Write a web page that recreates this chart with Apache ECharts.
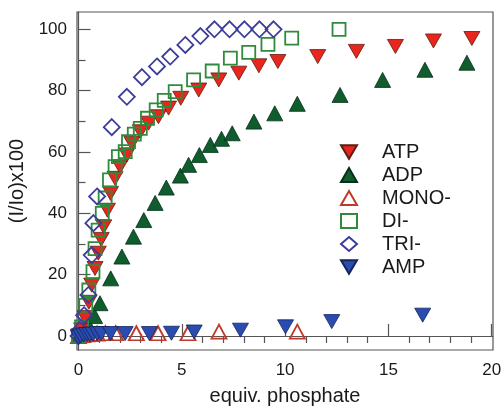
<!DOCTYPE html>
<html>
<head>
<meta charset="utf-8">
<script src="https://cdn.jsdelivr.net/npm/echarts@6/dist/echarts.min.js"></script>
<style>
  html, body { margin: 0; padding: 0; background: #fff; }
  #chart { width: 504px; height: 406px; }
</style>
</head>
<body>
<div id="chart"></div>
<script>
// [equiv. phosphate, (I/Io)x100]
var atp = [[0, 0], [0.15, 2], [0.32, 6], [0.5, 11], [0.64, 16.6], [0.8, 22], [0.96, 27], [1.1, 31.5],
    [1.22, 35.6], [1.4, 41], [1.55, 46.5], [1.77, 51.4], [2.01, 55.2], [2.34, 59], [2.58, 62.8],
    [2.99, 66.6], [3.39, 69.4], [3.87, 71.5], [4.36, 74.3], [4.95, 77.5], [5.82, 80.2], [6.79, 83.5],
    [7.76, 85.7], [8.73, 88.1], [9.65, 89.5], [11.58, 91.1], [13.45, 92.8], [15.34, 94.4],
    [17.18, 96.2], [19.04, 97]];
var adp = [[0, 0], [0.3, 1], [0.56, 2.5], [0.78, 6.5], [1.04, 10.7], [1.56, 18.8], [2.1, 25.9],
    [2.66, 32.4], [3.16, 37.8], [3.71, 43.4], [4.25, 48.4], [4.93, 52.3], [5.33, 55.8], [5.85, 59],
    [6.38, 62.3], [6.92, 64.3], [7.44, 66.1], [8.49, 69.9], [9.5, 72.6], [10.59, 75.7], [12.66, 78.6],
    [14.72, 83.5], [16.77, 86.8], [18.8, 89.1]];
var mono = [[0, 0], [0.2, 0.3], [0.4, 0.5], [0.6, 0.6], [0.9, 0.8], [1.3, 0.9], [1.8, 0.9],
    [2.8, 0.9], [3.85, 0.9], [5.3, 0.9], [6.8, 1.4], [10.59, 1.4]];
var di = [[0, 0], [0.15, 3], [0.35, 10], [0.5, 15], [0.7, 21], [0.8, 28.5], [0.95, 34.5],
    [1.15, 40], [1.29, 45], [1.5, 50.9], [1.77, 55.2], [1.93, 58.5], [2.26, 60.1], [2.42, 63.4],
    [2.7, 65.8], [2.99, 67.7], [3.34, 71], [3.76, 73.7], [4.15, 76.8], [4.68, 79.7], [5.57, 83.5],
    [6.47, 86.4], [7.35, 90.6], [8.24, 92.5], [9.17, 95.1], [10.32, 97.1], [12.61, 100]];
var tri = [[0, 0], [0.07, 2], [0.27, 6.8], [0.48, 13.4], [0.64, 26.4], [0.72, 36.8], [0.9, 45.5],
    [1.61, 68.1], [2.34, 78], [3.07, 84.4], [3.8, 87.9], [4.44, 91.1], [5.17, 94.9], [5.9, 97.8],
    [6.58, 100], [7.31, 100], [8.03, 100], [8.76, 100], [9.44, 100]];
var amp = [[0, -0.5], [0.1, 0], [0.25, 0.3], [0.4, 0.5], [0.55, 0.5], [0.7, 0.6], [0.9, 0.8],
    [1.1, 0.8], [1.55, 0.8], [2.26, 0.8], [3.43, 0.8], [4.5, 0.9], [5.6, 1.3], [7.84, 1.9],
    [10.02, 3], [12.26, 4.7], [16.66, 6.8]];

var legendNames = ['ATP', 'ADP', 'MONO-', 'DI-', 'TRI-', 'AMP'];
var xMajor = [0, 5, 10, 15, 20];
var xMinor = [1, 2, 3, 4, 6, 7, 8, 9, 11, 12, 13, 14, 16, 17, 18, 19];
var yMajor = [0, 20, 40, 60, 80, 100];
var yMinor = [10, 30, 50, 70, 90];

var FONT = '"Liberation Sans", Arial, sans-serif';
var downTri = 'path://M0,0L20,0L10,17Z';
var axisCol = '#555';

var chart = echarts.init(document.getElementById('chart'), null, { renderer: 'canvas' });

function scatter(name, data, symbol, size, fill, border, bw) {
    return {
        name: name,
        type: 'scatter',
        data: data,
        symbol: symbol,
        symbolSize: size,
        itemStyle: { color: fill, borderColor: border, borderWidth: bw, opacity: 1 },
        emphasis: { disabled: true }
    };
}

var xBase = { type: 'value', min: -0.073, max: 20.063, splitLine: { show: false } };
var yBase = { type: 'value', min: -4.56, max: 105.64, splitLine: { show: false } };

chart.setOption({
    animation: false,
    backgroundColor: '#fff',
    grid: {
        left: 77, right: 11, top: 12, bottom: 56,
        outerBoundsMode: 'none',
        show: true, borderColor: axisCol, borderWidth: 1.2, backgroundColor: 'transparent'
    },
    legend: {
        data: legendNames,
        orient: 'vertical',
        left: 340,
        top: 142,
        padding: 0,
        itemWidth: 16,
        itemHeight: 14,
        itemGap: 3,
        selectedMode: false,
        textStyle: { fontFamily: FONT, fontSize: 20, color: '#1a1a1a', padding: [0, 0, 0, 20] }
    },
    xAxis: [
        Object.assign({}, xBase, {
            name: 'equiv. phosphate',
            nameLocation: 'middle',
            nameGap: 36,
            nameTextStyle: { fontFamily: FONT, fontSize: 20, color: '#1a1a1a' },
            axisLine: { show: true, lineStyle: { color: axisCol, width: 1.2 } },
            axisTick: { show: true, inside: true, length: 12, customValues: xMajor, lineStyle: { color: axisCol, width: 1.2 } },
            axisLabel: { customValues: xMajor, margin: 12, fontFamily: FONT, fontSize: 17, color: '#1a1a1a' }
        }),
        Object.assign({}, xBase, {
            axisLine: { show: false },
            axisTick: { show: true, inside: true, length: 7, customValues: xMinor, lineStyle: { color: axisCol, width: 1.2 } },
            axisLabel: { show: false }
        })
    ],
    yAxis: [
        Object.assign({}, yBase, {
            name: '(I/Io)x100',
            nameLocation: 'middle',
            nameGap: 45,
            nameTextStyle: { fontFamily: FONT, fontSize: 20, color: '#1a1a1a' },
            axisLine: { show: true, lineStyle: { color: axisCol, width: 1.2 } },
            axisTick: { show: true, inside: true, length: 12, customValues: yMajor, lineStyle: { color: axisCol, width: 1.2 } },
            axisLabel: { customValues: yMajor, margin: 10, fontFamily: FONT, fontSize: 17, color: '#1a1a1a' }
        }),
        Object.assign({}, yBase, {
            position: 'left',
            axisLine: { show: false },
            axisTick: { show: true, inside: true, length: 7, customValues: yMinor, lineStyle: { color: axisCol, width: 1.2 } },
            axisLabel: { show: false }
        })
    ],
    series: [
        scatter('ATP', atp, downTri, [16, 14], '#e8261e', '#5c1f14', 0.8),
        scatter('ADP', adp, 'triangle', [16, 15], '#0f5c2c', '#06301a', 0.8),
        scatter('MONO-', mono, 'triangle', [15, 14], 'rgba(255,255,255,0)', '#c0392b', 1.8),
        scatter('DI-', di, 'rect', [13, 13], 'rgba(255,255,255,0)', '#2f8a3c', 1.8),
        scatter('TRI-', tri, 'diamond', [16, 16], 'rgba(255,255,255,0)', '#3c3c9c', 1.8),
        scatter('AMP', amp, downTri, [16, 14], '#2a4cb0', '#14245a', 0.8)
    ]
});
</script>
</body>
</html>
